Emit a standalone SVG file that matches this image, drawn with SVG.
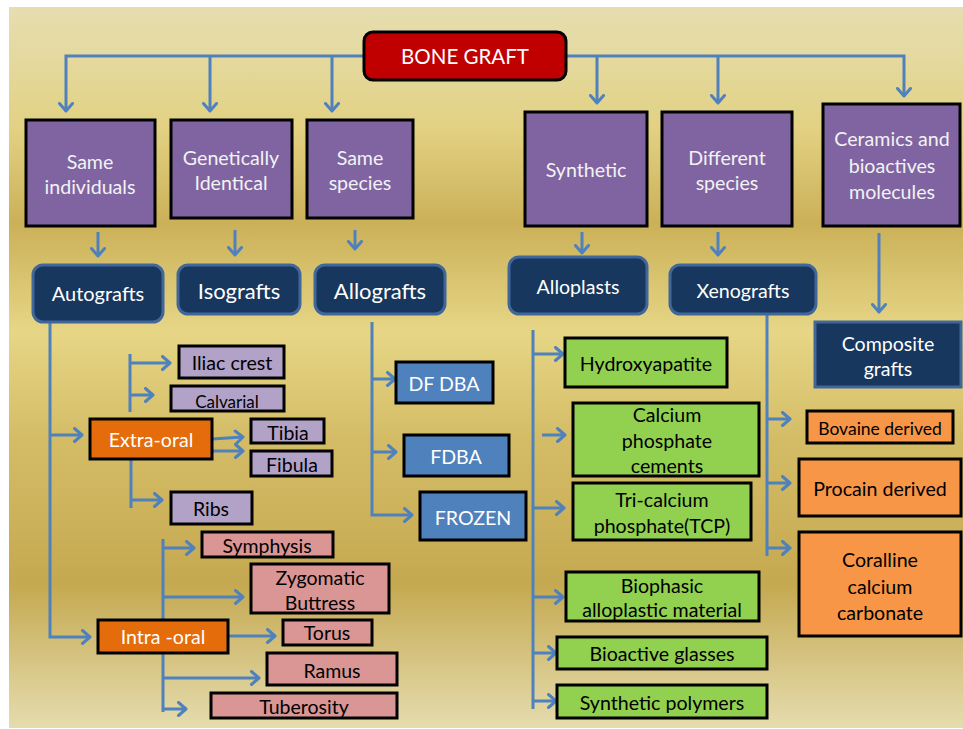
<svg xmlns="http://www.w3.org/2000/svg" width="963" height="729" viewBox="0 0 963 729">
<defs>
<linearGradient id="bg" x1="0" y1="0" x2="0" y2="1">
<stop offset="0" stop-color="#e6deb0"/>
<stop offset="0.08" stop-color="#e4d89c"/>
<stop offset="0.17" stop-color="#e2d182"/>
<stop offset="0.3" stop-color="#cbb058"/>
<stop offset="0.45" stop-color="#e6d686"/>
<stop offset="0.6" stop-color="#d4bc66"/>
<stop offset="0.8" stop-color="#c5a951"/>
<stop offset="1" stop-color="#e5dcae"/>
</linearGradient>
<marker id="ah" markerUnits="userSpaceOnUse" markerWidth="16" markerHeight="16" viewBox="0 0 16 16" refX="12.5" refY="8" orient="auto">
<path d="M5,1.5 L12.5,8 L5,14.5" fill="none" stroke="#4f81bd" stroke-width="3" stroke-linejoin="round" stroke-linecap="round"/>
</marker>
<style>
text{font-family:Lato,"Liberation Sans",sans-serif;text-anchor:middle;dominant-baseline:central}
.c path{fill:none;stroke:#4f81bd;stroke-width:3}
.c .a{marker-end:url(#ah)}
.root rect{fill:#c00000;stroke:#000;stroke-width:3}
.pur rect{fill:#8064a2;stroke:#000;stroke-width:3}
.pur text{fill:#f2f2f2;font-size:19.6px}
.nav rect{fill:#17375e;stroke:#41679a;stroke-width:3}
.nav text{fill:#fff;font-size:19.6px}
.org rect{fill:#e46c0a;stroke:#000;stroke-width:3}
.org text{fill:#fff;font-size:19.6px}
.lav rect{fill:#b2a2c7;stroke:#000;stroke-width:3}
.pnk rect{fill:#d99694;stroke:#000;stroke-width:3}
.blu rect{fill:#4f81bd;stroke:#000;stroke-width:3}
.blu text{fill:#fff;font-size:19.6px}
.grn rect{fill:#92d050;stroke:#000;stroke-width:3}
.lor rect{fill:#f79646;stroke:#000;stroke-width:3}
.dk{fill:#000;font-size:19.6px}
.sm{font-size:19.5px}
</style>
</defs>
<rect x="9" y="7" width="954" height="721" fill="url(#bg)"/>

<g class="c" id="connectors">
<path class="a" d="M364,56 H66 V111"/>
<path class="a" d="M210,56 V111"/>
<path class="a" d="M332,56 V111"/>
<path class="a" d="M566,56 H904 V96"/>
<path class="a" d="M597,56 V103"/>
<path class="a" d="M718,56 V103"/>
<path class="a" d="M98,232 V256"/>
<path class="a" d="M235,230 V255"/>
<path class="a" d="M355,230 V249"/>
<path class="a" d="M582,232 V253"/>
<path class="a" d="M718,232 V255"/>
<path class="a" d="M879,233 V312"/>
<path class="a" d="M50,322 V637 H90"/>
<path class="a" d="M50,435 H82"/>
<path d="M130,354 V412"/>
<path class="a" d="M130,363 H170"/>
<path class="a" d="M130,395 H153"/>
<path class="a" d="M212,439 L243,437"/>
<path class="a" d="M212,451 H243"/>
<path d="M131,459 V508"/>
<path class="a" d="M131,500 H162"/>
<path d="M163,539 V620"/>
<path class="a" d="M163,548 H194"/>
<path class="a" d="M163,597 H243"/>
<path class="a" d="M228,636 H275"/>
<path d="M163,653 V712"/>
<path class="a" d="M163,678 H259"/>
<path class="a" d="M163,709 H186"/>
<path class="a" d="M372,322 V515 H412"/>
<path class="a" d="M372,379 H395"/>
<path class="a" d="M372,452 H396"/>
<path d="M533,330 V709"/>
<path class="a" d="M533,354 H563"/>
<path class="a" d="M542,435 H565"/>
<path class="a" d="M533,508 H564"/>
<path class="a" d="M533,597 H563"/>
<path class="a" d="M533,653 H556"/>
<path class="a" d="M533,701 H556"/>
<path d="M767,314 V556"/>
<path class="a" d="M767,419 H790"/>
<path class="a" d="M767,483 H790"/>
<path class="a" d="M767,548 H790"/>
</g>

<g id="bone-graft" class="root"><rect x="364" y="32" width="202" height="48" rx="9"/><text x="465" y="56" fill="#fff" font-size="20.5">BONE GRAFT</text></g>

<g id="same-individuals" class="pur"><rect x="26" y="120" width="129" height="106"/><text x="90" y="161">Same</text><text x="90" y="186">individuals</text></g>
<g id="genetically-identical" class="pur"><rect x="171" y="120" width="121" height="98"/><text x="231" y="157">Genetically</text><text x="231" y="182">Identical</text></g>
<g id="same-species" class="pur"><rect x="307" y="120" width="106" height="98"/><text x="360" y="157">Same</text><text x="360" y="182">species</text></g>
<g id="synthetic" class="pur"><rect x="525" y="112" width="122" height="114"/><text x="586" y="169">Synthetic</text></g>
<g id="different-species" class="pur"><rect x="662" y="112" width="130" height="114"/><text x="727" y="157">Different</text><text x="727" y="182">species</text></g>
<g id="ceramics" class="pur"><rect x="823" y="104" width="137" height="122"/><text x="892" y="138">Ceramics and</text><text x="892" y="165">bioactives</text><text x="892" y="191">molecules</text></g>

<g id="autografts" class="nav"><rect x="33" y="265" width="130" height="57" rx="10"/><text x="98" y="293" style="font-size:20px">Autografts</text></g>
<g id="isografts" class="nav"><rect x="178" y="265" width="122" height="49" rx="10"/><text x="239" y="290" style="font-size:22px">Isografts</text></g>
<g id="allografts" class="nav"><rect x="315" y="265" width="130" height="49" rx="10"/><text x="380" y="290" style="font-size:22px">Allografts</text></g>
<g id="alloplasts" class="nav"><rect x="509" y="257" width="138" height="57" rx="10"/><text x="578" y="286">Alloplasts</text></g>
<g id="xenografts" class="nav"><rect x="670" y="265" width="146" height="49" rx="10"/><text x="743" y="290">Xenografts</text></g>
<g id="composite-grafts" class="nav"><rect x="815" y="322" width="146" height="65"/><text x="888" y="343">Composite</text><text x="888" y="368">grafts</text></g>

<g id="extra-oral" class="org"><rect x="90" y="419" width="122" height="40"/><text x="151" y="439">Extra-oral</text></g>
<g id="intra-oral" class="org"><rect x="98" y="620" width="130" height="33"/><text x="163" y="636">Intra -oral</text></g>

<g id="iliac-crest" class="lav"><rect x="179" y="346" width="105" height="32"/><text class="dk" x="232" y="362">Iliac crest</text></g>
<g id="calvarial" class="lav"><rect x="171" y="386" width="113" height="25"/><text class="dk" x="227" y="401" style="font-size:17px">Calvarial</text></g>
<g id="tibia" class="lav"><rect x="251" y="419" width="73" height="24"/><text class="dk sm" x="288" y="432">Tibia</text></g>
<g id="fibula" class="lav"><rect x="251" y="451" width="81" height="25"/><text class="dk sm" x="292" y="464">Fibula</text></g>
<g id="ribs" class="lav"><rect x="171" y="492" width="81" height="32"/><text class="dk sm" x="211" y="508">Ribs</text></g>

<g id="symphysis" class="pnk"><rect x="202" y="532" width="131" height="25"/><text class="dk sm" x="267" y="545">Symphysis</text></g>
<g id="zygomatic-buttress" class="pnk"><rect x="251" y="564" width="138" height="49"/><text class="dk sm" x="320" y="577">Zygomatic</text><text class="dk sm" x="320" y="602">Buttress</text></g>
<g id="torus" class="pnk"><rect x="283" y="620" width="89" height="25"/><text class="dk sm" x="327" y="632">Torus</text></g>
<g id="ramus" class="pnk"><rect x="267" y="653" width="130" height="32"/><text class="dk sm" x="332" y="670">Ramus</text></g>
<g id="tuberosity" class="pnk"><rect x="211" y="693" width="186" height="25"/><text class="dk sm" x="304" y="706">Tuberosity</text></g>

<g id="df-dba" class="blu"><rect x="396" y="362" width="97" height="41"/><text x="444" y="383">DF DBA</text></g>
<g id="fdba" class="blu"><rect x="404" y="435" width="105" height="41"/><text x="456" y="456">FDBA</text></g>
<g id="frozen" class="blu"><rect x="420" y="492" width="106" height="48"/><text x="473" y="517">FROZEN</text></g>

<g id="hydroxyapatite" class="grn"><rect x="565" y="338" width="162" height="49"/><text class="dk" x="646" y="363">Hydroxyapatite</text></g>
<g id="calcium-phosphate-cements" class="grn"><rect x="573" y="403" width="186" height="73"/><text class="dk" x="667" y="414">Calcium</text><text class="dk" x="667" y="440">phosphate</text><text class="dk" x="667" y="465">cements</text></g>
<g id="tcp" class="grn"><rect x="573" y="483" width="178" height="57"/><text class="dk" x="662" y="499">Tri-calcium</text><text class="dk" x="662" y="525">phosphate(TCP)</text></g>
<g id="biophasic" class="grn"><rect x="566" y="572" width="193" height="49"/><text class="dk" x="662" y="585">Biophasic</text><text class="dk" x="662" y="609">alloplastic material</text></g>
<g id="bioactive-glasses" class="grn"><rect x="557" y="637" width="210" height="32"/><text class="dk" x="662" y="653">Bioactive glasses</text></g>
<g id="synthetic-polymers" class="grn"><rect x="557" y="685" width="210" height="33"/><text class="dk" x="662" y="702">Synthetic polymers</text></g>

<g id="bovaine-derived" class="lor"><rect x="807" y="411" width="146" height="32"/><text class="dk" x="880" y="428" style="font-size:17.5px">Bovaine derived</text></g>
<g id="procain-derived" class="lor"><rect x="799" y="459" width="162" height="57"/><text class="dk" x="880" y="488">Procain derived</text></g>
<g id="coralline" class="lor"><rect x="799" y="532" width="162" height="104"/><text class="dk" x="880" y="559">Coralline</text><text class="dk" x="880" y="586">calcium</text><text class="dk" x="880" y="612">carbonate</text></g>
</svg>
